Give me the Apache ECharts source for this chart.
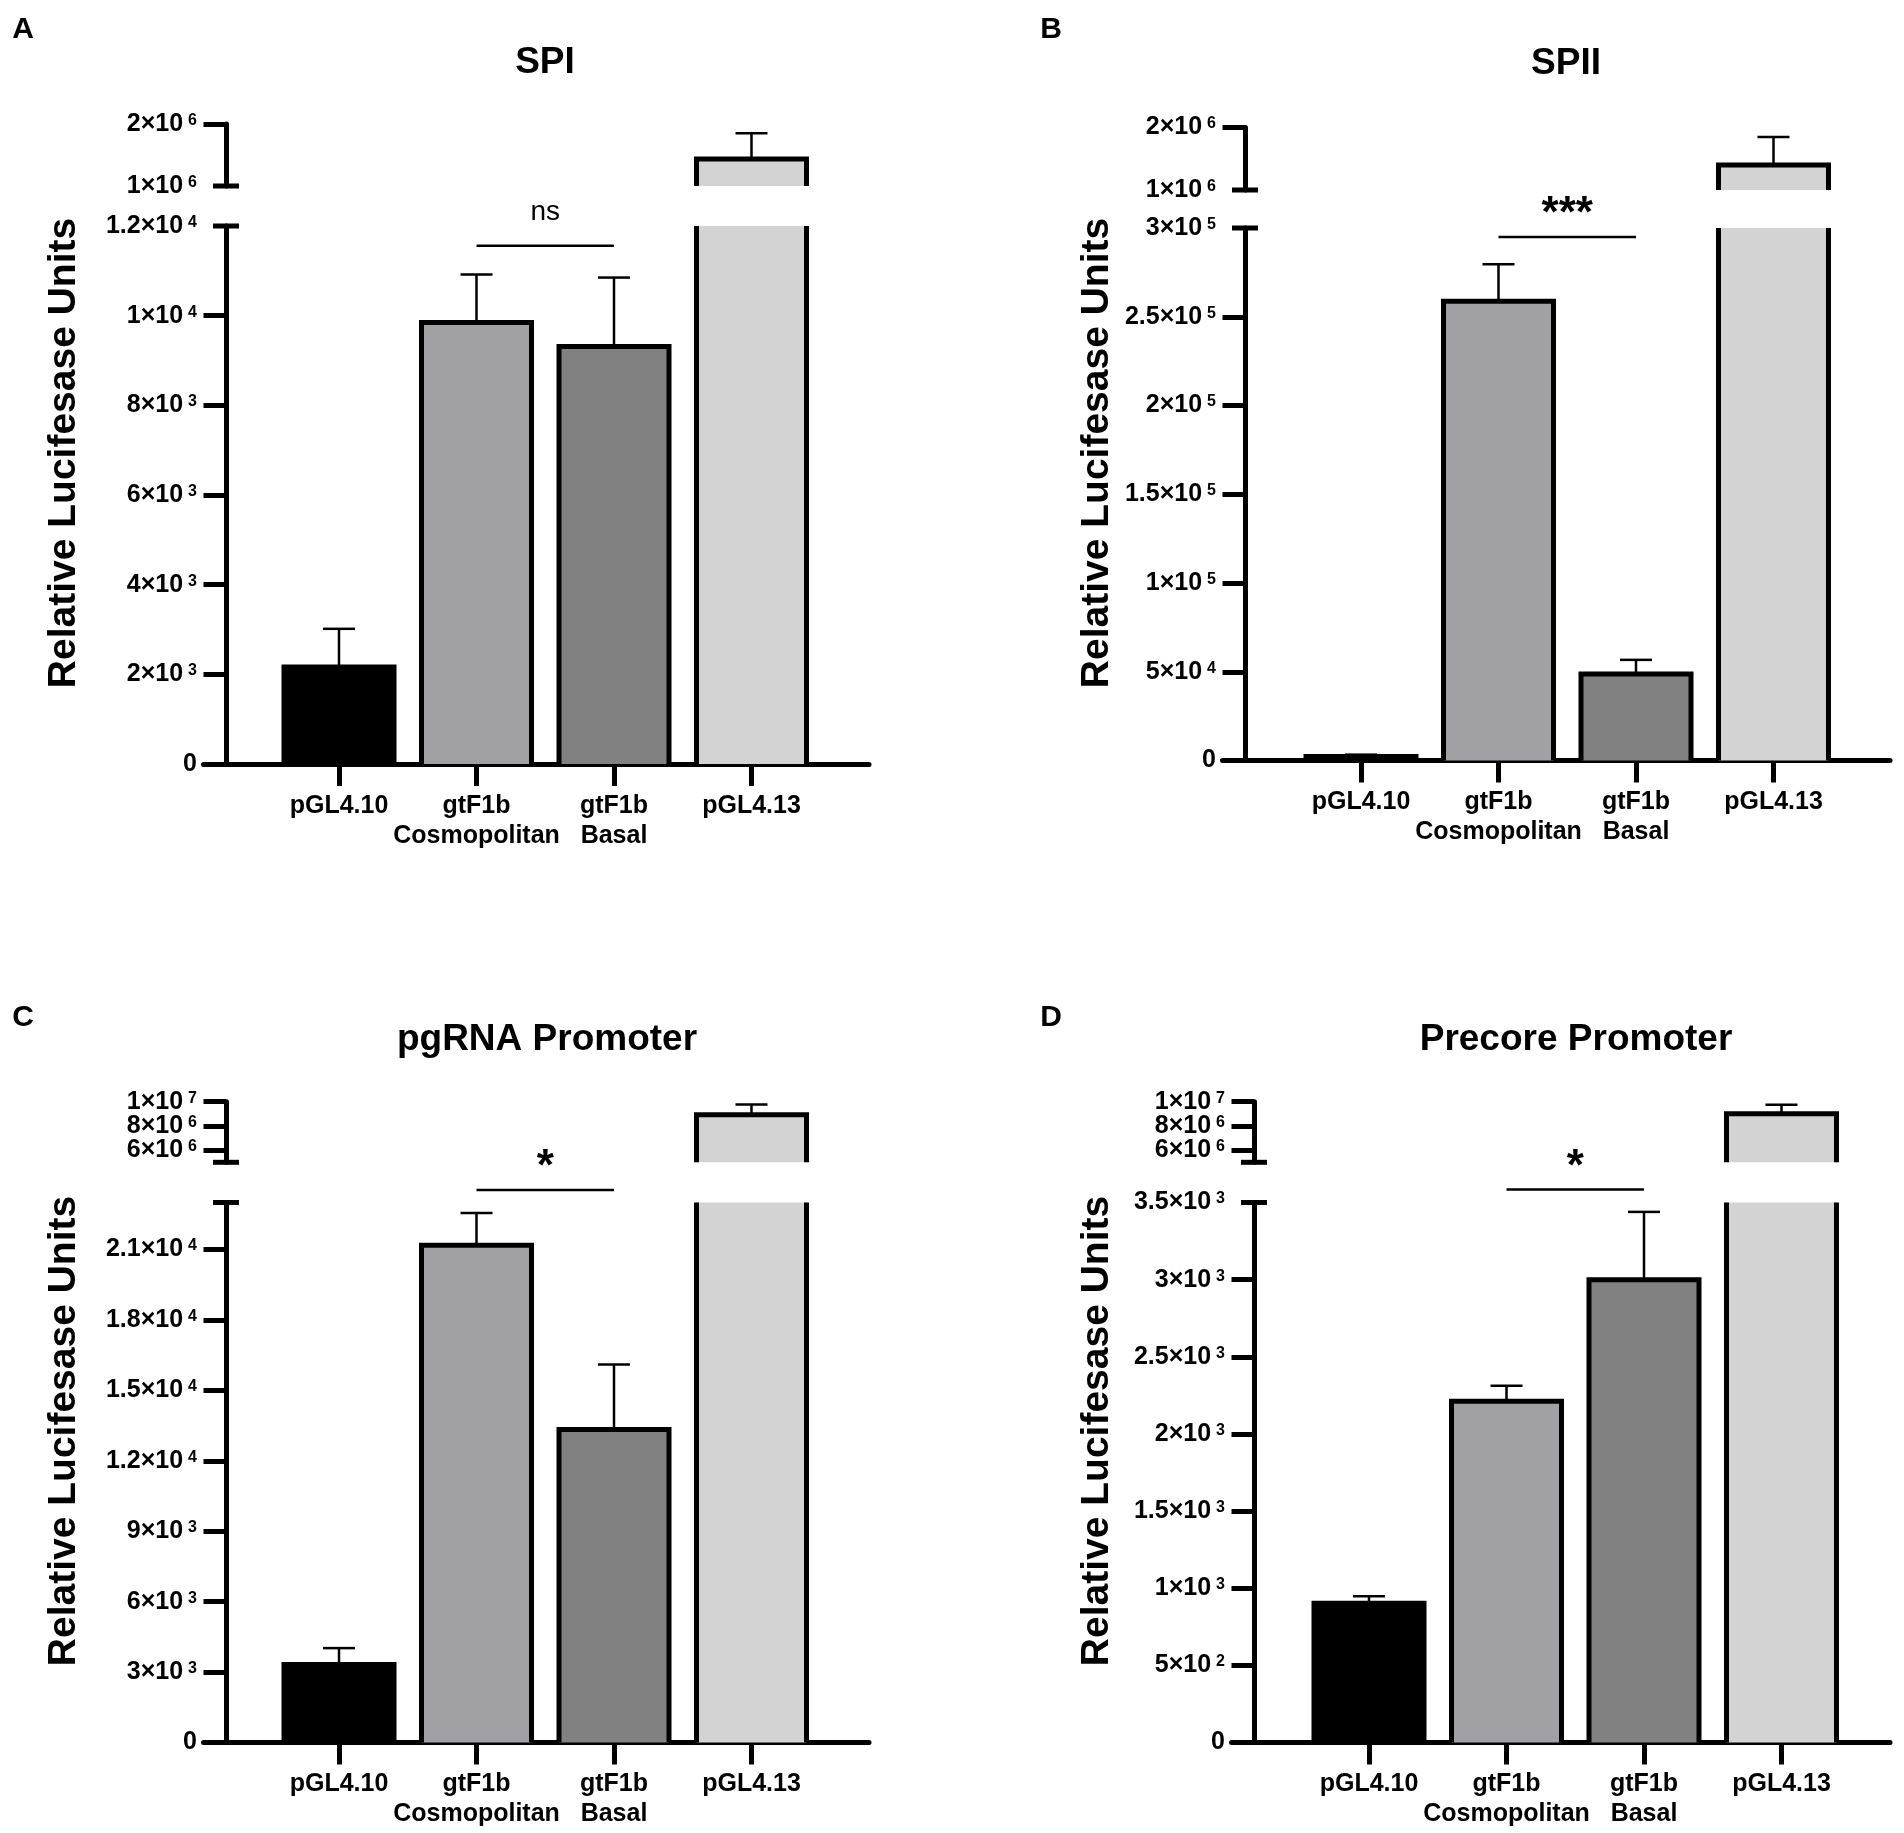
<!DOCTYPE html>
<html>
<head>
<meta charset="utf-8">
<script src="https://cdn.jsdelivr.net/npm/echarts@6/dist/echarts.min.js"></script>
<style>
html, body { margin: 0; padding: 0; background: #fff; }
#chart { width: 1904px; height: 1833px; }
</style>
</head>
<body>
<div id="chart"></div>
<script>
// ---- data ----
const categories = ['pGL4.10', 'gtF1b\nCosmopolitan', 'gtF1b\nBasal', 'pGL4.13'];
const barColors = ['#000000', '#a1a1a5', '#818181', '#d3d3d3'];
const panelTitles = ['SPI', 'SPII', 'pgRNA Promoter', 'Precore Promoter'];
const panelLetters = ['A', 'B', 'C', 'D'];
const axisTitle = 'Relative Lucifesase Units';

const spiMeans = [2165, 9850, 9310, 1434000];
const spiErrors = [850, 1070, 1540, 415000];
const spiiMeans = [2300, 258800, 48800, 1402000];
const spiiErrors = [1000, 20800, 7900, 448000];
const pgrnaMeans = [3320, 21180, 13330, 8930000];
const pgrnaErrors = [700, 1370, 2770, 830000];
const precoreMeans = [902, 2211, 2999, 9000000];
const precoreErrors = [46, 102, 440, 750000];

// broken y axes: lower segment and upper segment
const spiLowRange = [0, 12000];
const spiLowLabels = [0, 2000, 4000, 6000, 8000, 10000, 12000];
const spiHighRange = [1000000, 2000000];
const spiHighLabels = [1000000, 2000000];

const spiiLowRange = [0, 300000];
const spiiLowLabels = [0, 50000, 100000, 150000, 200000, 250000, 300000];
const spiiHighRange = [1000000, 2000000];
const spiiHighLabels = [1000000, 2000000];

const pgrnaLowRange = [0, 23000];
const pgrnaLowLabels = [0, 3000, 6000, 9000, 12000, 15000, 18000, 21000];
const pgrnaHighRange = [5000000, 10000000];
const pgrnaHighLabels = [6000000, 8000000, 10000000];

const precoreLowRange = [0, 3500];
const precoreLowLabels = [0, 500, 1000, 1500, 2000, 2500, 3000, 3500];
const precoreHighRange = [5000000, 10000000];
const precoreHighLabels = [6000000, 8000000, 10000000];

// significance bar between Cosmopolitan and Basal
const sigPair = [1, 2];
const sigLevels = [11560, 295000, 23530, 3585];
const sigLabels = ['ns', '***', '*', '*'];

const panels = [
    { means: spiMeans, errors: spiErrors, low: spiLowRange, lowLabels: spiLowLabels, high: spiHighRange, highLabels: spiHighLabels },
    { means: spiiMeans, errors: spiiErrors, low: spiiLowRange, lowLabels: spiiLowLabels, high: spiiHighRange, highLabels: spiiHighLabels },
    { means: pgrnaMeans, errors: pgrnaErrors, low: pgrnaLowRange, lowLabels: pgrnaLowLabels, high: pgrnaHighRange, highLabels: pgrnaHighLabels },
    { means: precoreMeans, errors: precoreErrors, low: precoreLowRange, lowLabels: precoreLowLabels, high: precoreHighRange, highLabels: precoreHighLabels }
];

// ---- layout (pixels) ----
const layouts = [
    { axisX: 226, firstX: 339, endX: 869, lowTop: 226, lowBottom: 764, highTop: 124, highBottom: 186, titleX: 545, titleY: 63, letterX: 23, letterY: 30, nameX: 64, nameY: 453 },
    { axisX: 1245, firstX: 1361, endX: 1890, lowTop: 228, lowBottom: 760.5, highTop: 127.5, highBottom: 190, titleX: 1566, titleY: 64, letterX: 1051, letterY: 30, nameX: 1097, nameY: 453 },
    { axisX: 226, firstX: 339, endX: 869, lowTop: 1202.5, lowBottom: 1742.5, highTop: 1101.7, highBottom: 1162.3, titleX: 547, titleY: 1040, letterX: 23, letterY: 1018, nameX: 64, nameY: 1431 },
    { axisX: 1254, firstX: 1369, endX: 1890, lowTop: 1202.5, lowBottom: 1742.5, highTop: 1101.7, highBottom: 1162.3, titleX: 1576, titleY: 1040, letterX: 1051, letterY: 1018, nameX: 1097, nameY: 1431 }
];
const STEP = 137.5;
const TICK = 22.5;
const BAR_REL = 0.8;
const CAP = 16;
const FONT = '"Liberation Sans", Arial, Helvetica, sans-serif';
const axisStroke = { color: '#000', width: 5 };

function sci (v) {
    if (v === 0) {
        return '{m|0}';
    }
    const exp = Math.floor(Math.log10(v) + 1e-9);
    const mant = Math.round(v / Math.pow(10, exp) * 10) / 10;
    return '{m|' + mant + '×10}{e|' + exp + '}';
}

const richLabel = {
    m: { fontSize: 25, fontWeight: 'bold', fontFamily: FONT, color: '#000', lineHeight: 23 },
    e: { fontSize: 16, fontWeight: 'bold', fontFamily: FONT, color: '#000', verticalAlign: 'top', lineHeight: 15, padding: [0, 0, 0, 5] }
};

function barRenderer (range) {
    return function (params, api) {
        const i = api.value(0);
        const v = api.value(1);
        const err = api.value(2);
        const lo = range[0];
        const hi = range[1];
        if (v <= lo) {
            return;
        }
        const half = api.size([BAR_REL, 0])[0] / 2;
        const top = api.coord([i, Math.min(v, hi)]);
        const base = api.coord([i, Math.max(lo, 0)]);
        const x0 = top[0] - half;
        const x1 = top[0] + half;
        const children = [{
            type: 'rect',
            shape: { x: x0, y: top[1], width: 2 * half, height: base[1] - top[1] },
            style: { fill: barColors[i] }
        }];
        if (v <= hi) {
            const cap = api.coord([i, v + err]);
            children.push({ type: 'line', shape: { x1: top[0], y1: top[1], x2: top[0], y2: cap[1] }, style: { stroke: '#000', lineWidth: 2.5 } });
            children.push({ type: 'line', shape: { x1: top[0] - CAP, y1: cap[1], x2: top[0] + CAP, y2: cap[1] }, style: { stroke: '#000', lineWidth: 2.5 } });
            children.push({
                type: 'polyline',
                shape: { points: [[x0, base[1]], [x0, top[1]], [x1, top[1]], [x1, base[1]]] },
                style: { stroke: '#000', lineWidth: 5, fill: 'none', lineJoin: 'miter' }
            });
        } else {
            children.push({ type: 'line', shape: { x1: x0, y1: top[1], x2: x0, y2: base[1] }, style: { stroke: '#000', lineWidth: 5 } });
            children.push({ type: 'line', shape: { x1: x1, y1: top[1], x2: x1, y2: base[1] }, style: { stroke: '#000', lineWidth: 5 } });
        }
        return { type: 'group', children: children };
    };
}

// short mark crossing the y axis where the axis is broken
function breakRenderer (params, api) {
    const p = api.coord([api.value(0), api.value(1)]);
    const x = p[0] + TICK;
    return { type: 'line', shape: { x1: x - 13, y1: p[1], x2: x + 13, y2: p[1] }, style: { stroke: '#000', lineWidth: 5 } };
}

function sigRenderer (label) {
    const isStar = label.indexOf('*') >= 0;
    return function (params, api) {
        const a = api.coord([api.value(0), api.value(2)]);
        const b = api.coord([api.value(1), api.value(2)]);
        return {
            type: 'group',
            children: [
                { type: 'line', shape: { x1: a[0], y1: a[1], x2: b[0], y2: b[1] }, style: { stroke: '#000', lineWidth: 2.5 } },
                {
                    type: 'text',
                    x: (a[0] + b[0]) / 2,
                    y: a[1] - (isStar ? 22 : 33),
                    style: {
                        text: label,
                        fill: '#000',
                        font: (isStar ? 'bold 44px ' : '28px ') + FONT,
                        textAlign: 'center',
                        textVerticalAlign: 'middle'
                    }
                }
            ]
        };
    };
}

const grid = [];
const xAxis = [];
const yAxis = [];
const series = [];
const graphic = [];

panels.forEach(function (pd, p) {
    const L = layouts[p];
    const left = L.axisX - TICK;
    const width = L.endX - left;
    const xMin = (left - L.firstX) / STEP;
    const xMax = (L.endX - L.firstX) / STEP;
    const lowIdx = 2 * p;
    const highIdx = 2 * p + 1;

    grid.push({ left: left, width: width, top: L.lowTop, height: L.lowBottom - L.lowTop, outerBoundsMode: 'none' });
    grid.push({ left: left, width: width, top: L.highTop, height: L.highBottom - L.highTop, outerBoundsMode: 'none' });

    xAxis.push({
        gridIndex: lowIdx,
        type: 'value',
        min: xMin,
        max: xMax,
        axisLine: { onZero: false, lineStyle: axisStroke },
        axisTick: { customValues: [0, 1, 2, 3], length: 22, lineStyle: axisStroke },
        axisLabel: {
            customValues: [0, 1, 2, 3],
            formatter: function (v) { return categories[Math.round(v)]; },
            margin: 27,
            fontSize: 25,
            fontWeight: 'bold',
            fontFamily: FONT,
            color: '#000',
            lineHeight: 30
        },
        splitLine: { show: false }
    });
    xAxis.push({ gridIndex: highIdx, type: 'value', min: xMin, max: xMax, show: false });

    const lowTicks = pd.lowLabels.filter(function (v) { return v !== pd.low[1]; });
    const highTicks = pd.highLabels.filter(function (v) { return v !== pd.high[0]; });

    [[lowIdx, pd.low, pd.lowLabels, lowTicks], [highIdx, pd.high, pd.highLabels, highTicks]].forEach(function (seg) {
        const gridIdx = seg[0];
        const range = seg[1];
        const yIdx = yAxis.length;
        // labels split over two stacked axes so that close labels are never dropped
        const evenLabels = seg[2].filter(function (v, k) { return k % 2 === 0; });
        const oddLabels = seg[2].filter(function (v, k) { return k % 2 === 1; });
        yAxis.push({
            gridIndex: gridIdx,
            type: 'value',
            position: 'left',
            min: range[0],
            max: range[1],
            offset: -TICK,
            axisLine: { show: true, onZero: false, lineStyle: axisStroke },
            axisTick: { show: true, customValues: seg[3], length: TICK, lineStyle: axisStroke },
            axisLabel: { customValues: evenLabels, formatter: sci, margin: 29, rich: richLabel, showMinLabel: true, showMaxLabel: true },
            splitLine: { show: false }
        });
        yAxis.push({
            gridIndex: gridIdx,
            type: 'value',
            position: 'left',
            min: range[0],
            max: range[1],
            offset: -TICK,
            axisLine: { show: false, onZero: false },
            axisTick: { show: false },
            axisLabel: { show: oddLabels.length > 0, customValues: oddLabels, formatter: sci, margin: 29, rich: richLabel, showMinLabel: true, showMaxLabel: true },
            splitLine: { show: false }
        });
        const barData = pd.means.map(function (m, i) { return [i, m, pd.errors[i]]; });
        series.push({
            type: 'custom',
            xAxisIndex: gridIdx,
            yAxisIndex: yIdx,
            silent: true,
            renderItem: barRenderer(range),
            data: barData,
            z: 3
        });
        const breakValue = gridIdx === lowIdx ? range[1] : range[0];
        series.push({
            type: 'custom',
            xAxisIndex: gridIdx,
            yAxisIndex: yIdx,
            silent: true,
            renderItem: breakRenderer,
            data: [[xMin, breakValue]],
            z: 4
        });
        if (gridIdx === lowIdx) {
            series.push({
                type: 'custom',
                xAxisIndex: gridIdx,
                yAxisIndex: yIdx,
                silent: true,
                renderItem: sigRenderer(sigLabels[p]),
                data: [[sigPair[0], sigPair[1], sigLevels[p]]],
                z: 4
            });
        }
    });

    graphic.push({
        type: 'text', x: L.titleX, y: L.titleY,
        style: { text: panelTitles[p], font: 'bold 37px ' + FONT, fill: '#000', textAlign: 'center', textVerticalAlign: 'middle' }
    });
    graphic.push({
        type: 'text', x: L.letterX, y: L.letterY,
        style: { text: panelLetters[p], font: 'bold 30px ' + FONT, fill: '#000', textAlign: 'center', textVerticalAlign: 'middle' }
    });
    graphic.push({
        type: 'text', x: L.nameX, y: L.nameY, rotation: Math.PI / 2,
        style: { text: axisTitle, font: 'bold 39px ' + FONT, fill: '#000', textAlign: 'center', textVerticalAlign: 'middle' }
    });
});

const chart = echarts.init(document.getElementById('chart'));
chart.setOption({
    backgroundColor: '#fff',
    animation: false,
    grid: grid,
    xAxis: xAxis,
    yAxis: yAxis,
    series: series,
    graphic: graphic
});
window.addEventListener('resize', function () {
    chart.resize();
});
</script>
</body>
</html>
